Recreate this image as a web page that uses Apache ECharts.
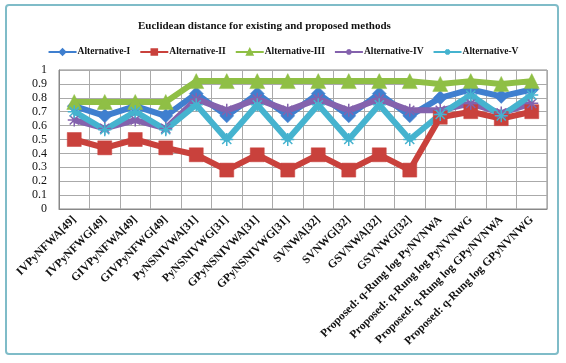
<!DOCTYPE html>
<html>
<head>
<meta charset="utf-8">
<script src="https://cdn.jsdelivr.net/npm/echarts@6/dist/echarts.min.js"></script>
<style>
  html, body { margin: 0; padding: 0; background: #fff; }
  #chart { width: 566px; height: 363px; }
</style>
</head>
<body>
<div id="chart"></div>
<script>
const categories = [
  'IVPyNFWA[49]', 'IVPyNFWG[49]', 'GIVPyNFWA[49]', 'GIVPyNFWG[49]',
  'PyNSNIVWA[31]', 'PyNSNIVWG[31]', 'GPyNSNIVWA[31]', 'GPyNSNIVWG[31]',
  'SVNWA[32]', 'SVNWG[32]', 'GSVNWA[32]', 'GSVNWG[32]',
  'Proposed: q-Rung log PyNVNWA', 'Proposed: q-Rung log PyNVNWG',
  'Proposed: q-Rung log GPyNVNWA', 'Proposed: q-Rung log GPyNVNWG'
]
const alt1 = [0.74, 0.67, 0.74, 0.67, 0.83, 0.67, 0.83, 0.67, 0.83, 0.67, 0.83, 0.67, 0.80, 0.86, 0.81, 0.86]
const alt2 = [0.50, 0.44, 0.50, 0.44, 0.39, 0.28, 0.39, 0.28, 0.39, 0.28, 0.39, 0.28, 0.66, 0.70, 0.65, 0.70]
const alt3 = [0.77, 0.77, 0.77, 0.77, 0.92, 0.92, 0.92, 0.92, 0.92, 0.92, 0.92, 0.92, 0.90, 0.92, 0.90, 0.92]
const alt4 = [0.64, 0.58, 0.64, 0.58, 0.79, 0.71, 0.79, 0.71, 0.79, 0.71, 0.79, 0.71, 0.71, 0.76, 0.69, 0.76]
const alt5 = [0.70, 0.57, 0.70, 0.57, 0.75, 0.50, 0.75, 0.50, 0.75, 0.50, 0.75, 0.50, 0.68, 0.82, 0.67, 0.82]
const yTicks = { min: 0, max: 1, interval: 0.1 }

// asterisk marker like the old office charts
const starPath = 'path://M0,-10L0,10M-10,0L10,0M-7,-7L7,7M-7,7L7,-7'

const serif = '"Liberation Serif", "DejaVu Serif", serif'

function makeSeries (name, data, color, symbol, size) {
  const isStar = symbol === starPath
  return {
    name: name,
    type: 'line',
    data: data,
    symbol: symbol,
    symbolSize: size,
    lineStyle: { width: 6, color: color },
    itemStyle: isStar
      ? { color: 'transparent', borderColor: color, borderWidth: 1.5 }
      : { color: color, borderColor: color, borderWidth: 0.5 }
  }
}

const chart = echarts.init(document.getElementById('chart'))
chart.setOption({
  animation: false,
  backgroundColor: '#fff',
  textStyle: { fontFamily: serif },
  title: {
    text: 'Euclidean distance for existing and proposed methods',
    left: 133,
    top: 16,
    textStyle: { fontFamily: serif, fontWeight: 'bold', fontSize: 11, color: '#111' }
  },
  legend: {
    top: 42,
    left: 'center',
    itemWidth: 28,
    itemHeight: 7,
    itemGap: 9,
    textStyle: { fontFamily: serif, fontWeight: 'bold', fontSize: 9.5, color: '#111', padding: [0, 0, 0, -4] },
    data: ['Alternative-I', 'Alternative-II', 'Alternative-III', 'Alternative-IV', 'Alternative-V']
  },
  grid: { left: 59, right: 19, top: 70, bottom: 154 },
  xAxis: {
    type: 'category',
    data: categories,
    boundaryGap: true,
    axisLine: { lineStyle: { color: '#888' } },
    axisTick: { show: false },
    splitLine: { show: true, lineStyle: { color: '#aaa', width: 1 } },
    axisLabel: {
      interval: 0,
      rotate: 45,
      margin: 9,
      fontFamily: serif,
      fontWeight: 'bold',
      fontSize: 11.5,
      color: '#111'
    }
  },
  yAxis: {
    type: 'value',
    min: yTicks.min,
    max: yTicks.max,
    interval: yTicks.interval,
    axisLine: { show: true, lineStyle: { color: '#888' } },
    axisTick: { show: false },
    splitLine: { lineStyle: { color: '#aaa', width: 1 } },
    axisLabel: { fontFamily: serif, fontSize: 12, color: '#111', margin: 12 }
  },
  graphic: [{
    type: 'rect',
    shape: { x: 6, y: 5, width: 552, height: 349, r: 3 },
    style: { fill: 'none', stroke: '#7fbcc8', lineWidth: 2 },
    silent: true,
    z: -1
  }, {
    type: 'rect',
    shape: { x: 59, y: 70, width: 488, height: 139 },
    style: { fill: 'none', stroke: '#888', lineWidth: 1 },
    silent: true
  }],
  series: [
    makeSeries('Alternative-I', alt1, '#3f7fcf', 'diamond', 14),
    makeSeries('Alternative-II', alt2, '#c9413c', 'rect', 14),
    makeSeries('Alternative-III', alt3, '#8fbf45', 'triangle', 15),
    makeSeries('Alternative-IV', alt4, '#8462ad', starPath, 13),
    makeSeries('Alternative-V', alt5, '#45b3cf', starPath, 13)
  ]
})
</script>
</body>
</html>
